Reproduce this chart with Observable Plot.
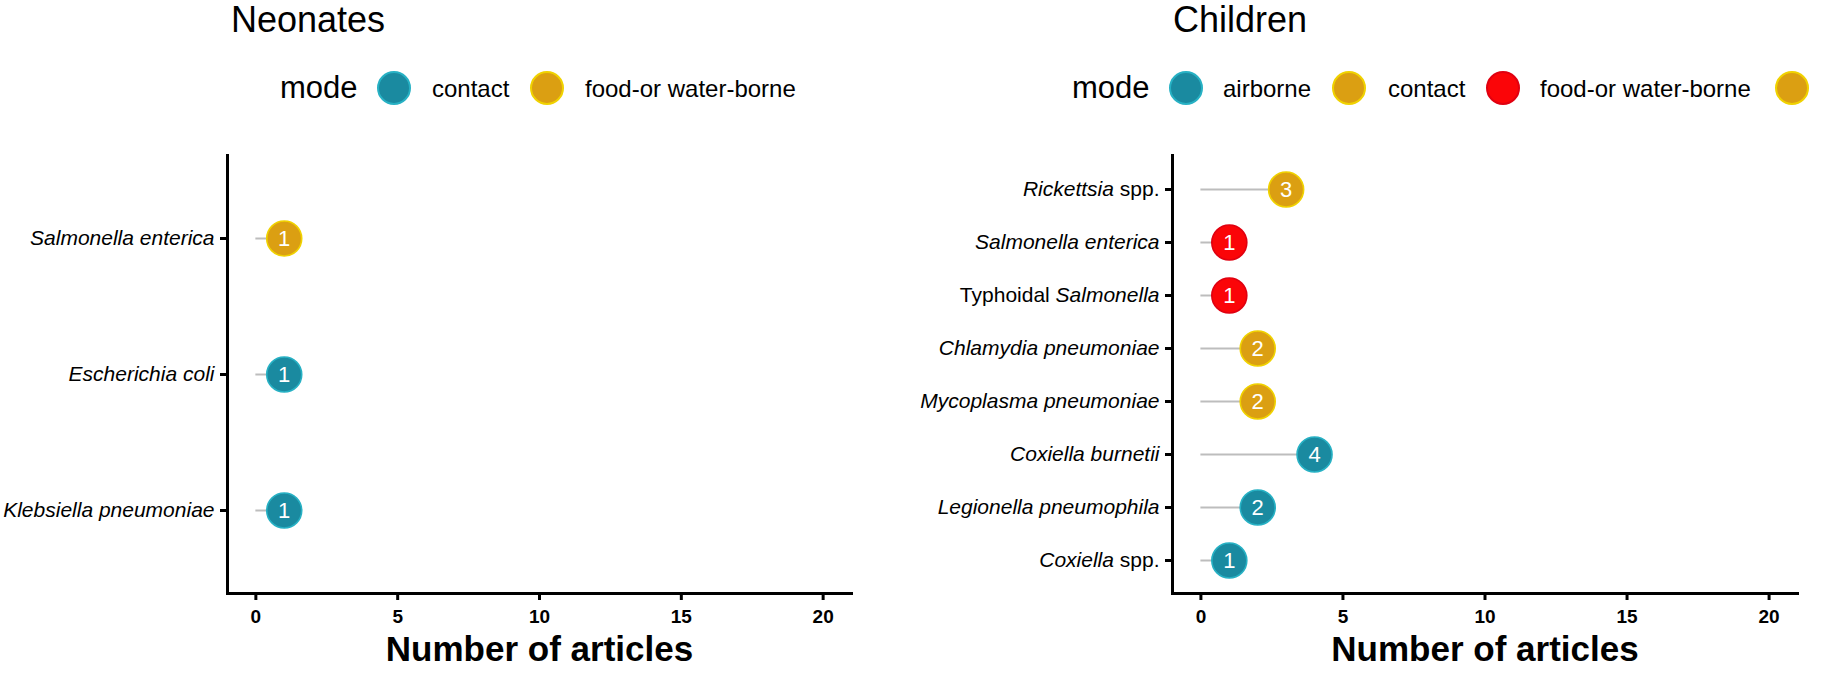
<!DOCTYPE html>
<html>
<head>
<meta charset="utf-8">
<script src="https://cdn.jsdelivr.net/npm/d3@7"></script>
<script src="https://cdn.jsdelivr.net/npm/@observablehq/plot@0.6"></script>
<style>
  html, body { margin: 0; padding: 0; background: #fff; }
  #wrap { position: relative; width: 1831px; height: 677px; overflow: hidden; font-family: "Liberation Sans", Arial, sans-serif; color: #000; }
  .abs { position: absolute; white-space: nowrap; line-height: 1; }
  .sw { position: absolute; width: 34px; height: 34px; border-radius: 50%; box-sizing: border-box; border: 2px solid; }
</style>
</head>
<body>
<div id="wrap"></div>
<script>
// ---- data ----
const neonateNames  = ["Salmonella enterica", "Escherichia coli", "Klebsiella pneumoniae"];
const neonateCounts = [1, 1, 1];
const neonateModes  = ["food-or water-borne", "contact", "contact"];
const neonateLegendModes = ["contact", "food-or water-borne"];

const childNames  = ["Rickettsia spp.", "Salmonella enterica", "Typhoidal Salmonella", "Chlamydia pneumoniae",
                     "Mycoplasma pneumoniae", "Coxiella burnetii", "Legionella pneumophila", "Coxiella spp."];
const childCounts = [3, 1, 1, 2, 2, 4, 2, 1];
const childModes  = ["contact", "food-or water-borne", "food-or water-borne", "contact",
                     "contact", "airborne", "airborne", "airborne"];
const childLegendModes = ["airborne", "contact", "food-or water-borne", ""];

// words set upright (not italic) in the category labels
const uprightWords = ["spp.", "Typhoidal"];

const xTicks = [0, 5, 10, 15, 20];
const xDomain = [-1, 21];
const xTitle = "Number of articles";

// ---- styles ----
const TEAL = "#1a8aa0", GOLD = "#db9f12", RED = "#fb0508";
const strokeOf = {[TEAL]: "#27b1c4", [GOLD]: "#f0d200", [RED]: "#e00010"};
const neonatePalette = {"contact": TEAL, "food-or water-borne": GOLD};
const childPalette = {"airborne": TEAL, "contact": GOLD, "food-or water-borne": RED, "": GOLD};

const FONT = '"Liberation Sans", Arial, sans-serif';
const LABEL_SIZE = 21;
const wrap = document.getElementById("wrap");

function addText(txt, left, baseline, size, extra = {}) {
  const d = document.createElement("div");
  d.className = "abs";
  d.textContent = txt;
  d.style.left = left + "px";
  d.style.fontSize = size + "px";
  d.style.top = (baseline - 0.8465 * size) + "px";
  Object.assign(d.style, extra);
  wrap.appendChild(d);
}
function addSwatch(cx, cy, color) {
  const s = document.createElement("div");
  s.className = "sw";
  s.style.left = (cx - 17) + "px";
  s.style.top = (cy - 17) + "px";
  s.style.background = color;
  s.style.borderColor = strokeOf[color];
  wrap.appendChild(s);
}

const ctx = document.createElement("canvas").getContext("2d");
function measure(txt, italic) {
  ctx.font = `${italic ? "italic " : ""}${LABEL_SIZE}px ${FONT}`;
  return ctx.measureText(txt).width;
}

// split a label into styled segments (consecutive words with same style)
function segments(name) {
  const segs = [];
  name.split(" ").forEach(w => {
    const italic = !uprightWords.includes(w);
    const last = segs[segs.length - 1];
    if (last && last.italic === italic) last.text += " " + w;
    else segs.push({text: w, italic});
  });
  return segs;
}

function labelMarks(names, offset) {
  const marks = [];
  names.forEach(name => {
    const segs = segments(name);
    let right = offset;
    for (let i = segs.length - 1; i >= 0; i--) {
      const s = segs[i];
      marks.push(Plot.text([name], {y: d => d, text: () => s.text, frameAnchor: "left", textAnchor: "end",
        dx: -right, fontSize: LABEL_SIZE, fontStyle: s.italic ? "italic" : "normal", fill: "black"}));
      right += measure(s.text, s.italic) + measure(" ", s.italic);
    }
  });
  return marks;
}

function panel({names, counts, modes, palette, left, width, marginLeft, marginRight}) {
  const data = names.map((name, i) => ({name, n: counts[i], mode: modes[i]}));
  const tickSize = 7, tickPadding = 6;
  const marks = [
    Plot.ruleY(data, {y: "name", x1: 0, x2: "n", stroke: "#bdbdbd", strokeWidth: 2}),
    Plot.dot(data, {x: "n", y: "name", r: 17.5, fill: d => palette[d.mode], stroke: d => strokeOf[palette[d.mode]], strokeWidth: 1.6}),
    Plot.text(data, {x: "n", y: "name", text: d => String(d.n), fill: "white", fontSize: 22}),
    Plot.frame({anchor: "left", stroke: "black", strokeWidth: 3}),
    Plot.frame({anchor: "bottom", stroke: "black", strokeWidth: 3}),
    Plot.axisY({tickSize, tickPadding, stroke: "black", strokeWidth: 3, tickFormat: () => "", label: null}),
    ...labelMarks(names, tickSize + tickPadding),
    Plot.axisX({ticks: xTicks, tickSize: 7, tickPadding: 9, fontSize: 19, fontWeight: "bold", stroke: "black", strokeWidth: 3, fill: "black", label: null}),
    Plot.text([xTitle], {frameAnchor: "bottom", dy: 56, lineAnchor: "middle", fontSize: 35, fontWeight: "bold", fill: "black"})
  ];
  const chart = Plot.plot({
    width, height: 537,
    marginLeft, marginRight, marginTop: 15, marginBottom: 84,
    style: {fontFamily: FONT, background: "white", color: "black", overflow: "visible"},
    x: {domain: xDomain},
    y: {type: "point", domain: names, padding: 0.6},
    color: {type: "identity"},
    marks
  });
  const holder = document.createElement("div");
  holder.style.position = "absolute";
  holder.style.left = left + "px";
  holder.style.top = "140px";
  holder.appendChild(chart);
  wrap.appendChild(holder);
}

// ---- headers & legends ----
addText("Neonates", 231, 32, 36);
addText("mode", 280, 98, 31);
{
  const sw = [394, 547], lx = [432, 585];
  neonateLegendModes.forEach((m, i) => { addSwatch(sw[i], 88, neonatePalette[m]); addText(m, lx[i], 97, 24); });
}
addText("Children", 1173, 32, 36);
addText("mode", 1072, 98, 31);
{
  const sw = [1186, 1349, 1503, 1792], lx = [1223, 1388, 1540, 1830];
  childLegendModes.forEach((m, i) => { addSwatch(sw[i], 88, childPalette[m]); if (m) addText(m, lx[i], 97, 24); });
}

// ---- panels ----
panel({names: neonateNames, counts: neonateCounts, modes: neonateModes, palette: neonatePalette,
       left: 0, width: 880, marginLeft: 227, marginRight: 29});
panel({names: childNames, counts: childCounts, modes: childModes, palette: childPalette,
       left: 900, width: 931, marginLeft: 272, marginRight: 34});
</script>
</body>
</html>
